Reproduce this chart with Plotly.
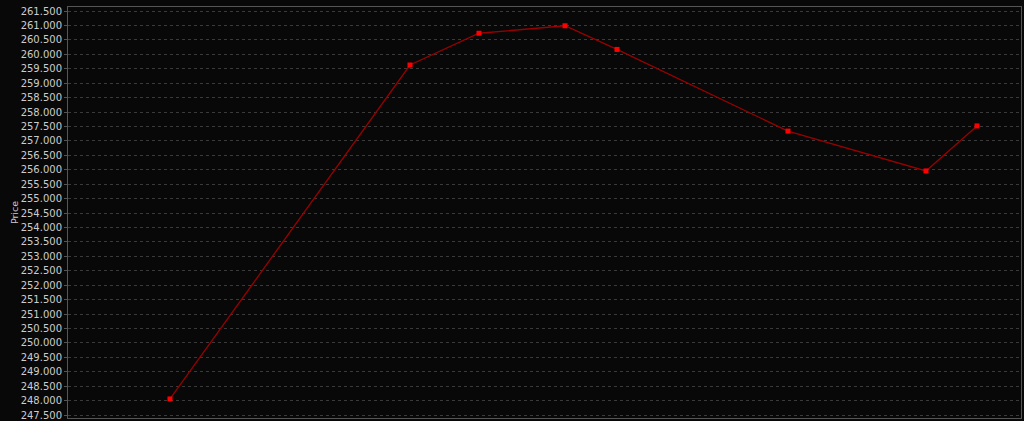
import plotly.graph_objects as go

# time positions (arbitrary sequential units) and prices
t_values = [170, 410, 479, 565, 617, 788, 926, 977]
prices = [248.06, 259.63, 260.73, 260.99, 260.17, 257.34, 255.96, 257.52]

y_ticks = [247.5 + 0.5 * i for i in range(29)]
y_tick_text = [f"{v:.3f}" for v in y_ticks]

fig = go.Figure()
fig.add_trace(go.Scatter(
    x=t_values, y=prices, mode="lines+markers",
    line=dict(color="#990000", width=1.3),
    marker=dict(color="#ff0000", size=5, symbol="square"),
    showlegend=False, hoverinfo="x+y",
))

fig.update_layout(
    width=1024, height=421,
    margin=dict(l=68, r=3, t=7, b=3, autoexpand=False),
    paper_bgcolor="#080808", plot_bgcolor="#080808",
    font=dict(family="DejaVu Sans", color="#cccccc", size=10),
    xaxis=dict(range=[68, 1021], showticklabels=False, showgrid=False,
               zeroline=False, showline=True, linecolor="#555555", mirror=True,
               ticks=""),
    yaxis=dict(range=[247.4, 261.64], tickvals=y_ticks, ticktext=y_tick_text,
               showgrid=True, gridcolor="#3a3a3a", griddash="dot", gridwidth=1,
               zeroline=False, showline=True, linecolor="#555555", mirror=True,
               ticks="outside", ticklen=3, tickcolor="#555555",
               ticklabeloverflow="allow",
               title=dict(text="Price", font=dict(size=9.5, color="#cccccc"), standoff=0),
               tickfont=dict(size=10, color="#cccccc")),
)

fig.write_html("out.html", config={"displayModeBar": False},
               post_script="document.body.style.margin='0';document.body.style.background='#080808';")
